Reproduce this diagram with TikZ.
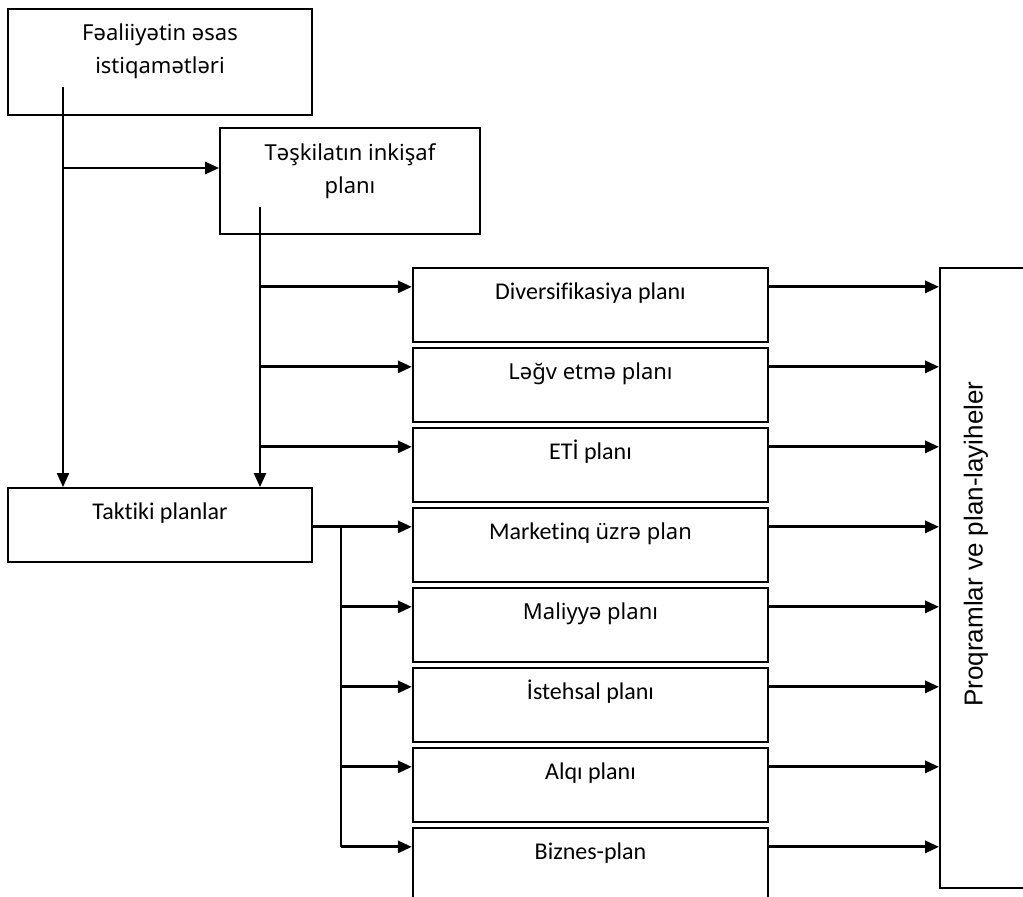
\documentclass[tikz,border=0pt]{standalone}
\usepackage{fontspec}
\setmainfont[Ligatures=NoCommon]{Carlito}
\newfontfamily\altf{Noto Sans}
\newfontfamily\rotf{Liberation Sans}
\usetikzlibrary{arrows.meta,calc}
\begin{document}
\begin{tikzpicture}[x=1pt,y=-1pt,
  topbox/.style={draw, line width=1.6pt, inner sep=0pt},
  tbox/.style={draw, line width=1.8pt, inner sep=0pt, minimum width=304pt, minimum height=74pt},
  mbox/.style={draw, line width=2.3pt, inner sep=0pt, minimum width=355pt, minimum height=74pt},
  rbox/.style={draw, line width=1.8pt, inner sep=0pt, minimum width=120pt, minimum height=620pt},
  cal/.style={font=\fontsize{24}{28}\selectfont, anchor=base, inner sep=0pt},
  alt/.style={font=\altf\fontsize{22}{33}\selectfont, anchor=base, inner sep=0pt},
  arr/.style={line width=3pt, -{Triangle[length=14pt,width=12pt]}},
  varr/.style={line width=2pt, -{Triangle[length=14pt,width=12pt]}},
  thinl/.style={line width=1.2pt}]
\useasboundingbox (0,0) rectangle (1023,897);

% top boxes
\node[topbox, minimum width=304pt, minimum height=106pt] (b1) at (160,62) {};
\node[alt, align=center] (b1t) at (160,73) {Fəaliiyətin əsas\\istiqamətləri};
\node[topbox, minimum width=260pt, minimum height=106pt] (b2) at (350,181) {};
\node[alt, align=center] (b2t) at (350,193) {Təşkilatın inkişaf\\planı};

% tactical
\node[tbox] (tak) at (160,525) {};
\node[cal] (takt) at (160,519) {Taktiki planlar};

% middle boxes
\foreach \i in {1,...,8}{
  \node[mbox] (m\i) at (590.5,{305+80*(\i-1)}) {};
  \coordinate (in\i) at ($(m\i.north west)+(0,20)$);
  \coordinate (out\i) at ($(m\i.north east)+(0,20)$);
  \coordinate (tx\i) at ($(m\i.north)+(0,33)$);
}
\node[cal] (t1) at (tx1) {Diversifikasiya planı};
\node[alt] (t2) at (tx2) {Ləğv etmə planı};
\node[cal] (t3) at (tx3) {ETİ planı};
\node[cal] (t4) at (tx4) {Marketinq {\altf\fontsize{22}{28}\selectfont üzrə plan}};
\node[alt] (t5) at (tx5) {Maliyyə planı};
\node[cal] (t6) at (tx6) {İstehsal planı};
\node[cal] (t7) at (tx7) {Alqı planı};
\node[cal] (t8) at (tx8) {Biznes-plan};

% right box
\node[rbox] (R) at (1000,578) {};
\node[font=\rotf\fontsize{26}{30}\selectfont, rotate=90, inner sep=0pt] (Rt) at (976,544) {Proqramlar ve plan-layiheler};

% connectors
\coordinate (s1) at (63,87);
\coordinate (j1) at (63,168);
\coordinate (s2) at (260,207);
\coordinate (v1) at (341,528);

\draw[varr] (s1) -- (s1 |- tak.north);
\draw[arr, line width=2.4pt] (j1) -- (j1 -| b2.west);
\draw[varr, line width=2.3pt] (s2) -- (s2 |- tak.north);
\foreach \i in {1,2,3}{
  \draw[arr] (s2 |- in\i) -- (in\i);
}
\draw[arr] (tak.east |- in4) -- (in4);
\draw[thinl] (v1) -- (v1 |- in8);
\foreach \i in {5,...,8}{
  \draw[arr] (v1 |- in\i) -- (in\i);
}
\foreach \i in {1,...,8}{
  \draw[arr] (out\i) -- (out\i -| R.west);
}
\end{tikzpicture}
\end{document}
